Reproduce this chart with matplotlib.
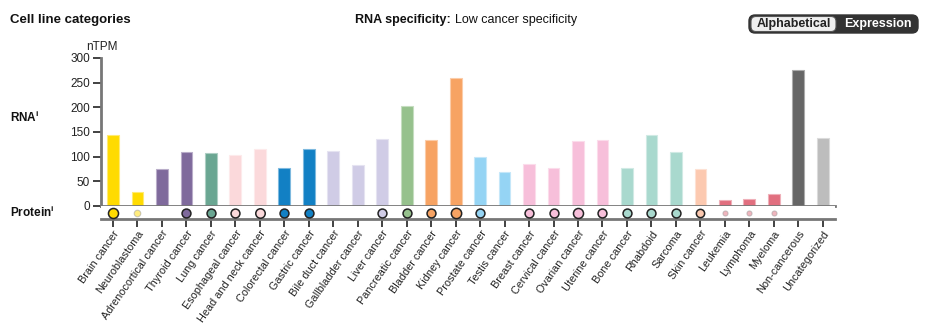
import numpy as np
import matplotlib.pyplot as plt
from matplotlib.patches import FancyBboxPatch

plt.rcParams['font.family'] = ['Liberation Sans', 'DejaVu Sans']

categories = ["Brain cancer", "Neuroblastoma", "Adrenocortical cancer", "Thyroid cancer",
              "Lung cancer", "Esophageal cancer", "Head and neck cancer", "Colorectal cancer",
              "Gastric cancer", "Bile duct cancer", "Gallbladder cancer", "Liver cancer",
              "Pancreatic cancer", "Bladder cancer", "Kidney cancer", "Prostate cancer",
              "Testis cancer", "Breast cancer", "Cervical cancer", "Ovarian cancer",
              "Uterine cancer", "Bone cancer", "Rhabdoid", "Sarcoma", "Skin cancer",
              "Leukemia", "Lymphoma", "Myeloma", "Non-cancerous", "Uncategorized"]

rna_ntpm = [143, 29, 74, 110, 107, 104, 116, 78, 116, 112, 84, 135, 202, 133, 259,
            100, 68, 85, 78, 132, 134, 78, 143, 110, 74, 12, 14, 25, 276, 137]

# protein level per category, None = no protein data
protein = [2.6, 1.4, None, 2.2, 2.2, 2.2, 2.4, 2.2, 2.2, None, None, 2.2, 2.2, 2.2, 2.7,
           2.2, None, 2.2, 2.2, 2.6, 2.2, 2.2, 2.2, 2.2, 2.0, 0.9, 0.9, 0.9, None, None]

colors = ["#ffdb00", "#ffdb00", "#7f6a9c", "#7f6a9c", "#6aa692", "#fbd9db", "#fbd9db",
          "#1280c4", "#1280c4", "#d0cce6", "#d0cce6", "#d0cce6", "#96c18d", "#f7a363",
          "#f7a363", "#95d4f4", "#95d4f4", "#f7bfda", "#f7bfda", "#f7bfda", "#f7bfda",
          "#a9d9ce", "#a9d9ce", "#a9d9ce", "#fcc9b0", "#e16f7f", "#e16f7f", "#e16f7f",
          "#666666", "#bdbdbd"]

W, H = 941, 325
fig = plt.figure(figsize=(W / 100, H / 100), dpi=100)


def fx(px):
    return px / W


def fy(py):
    return 1 - py / H


x = np.arange(len(categories))
xlim = (-0.49, 29.5)

# RNA bars
ax = fig.add_axes([fx(101), fy(206), fx(835 - 101), fy(58) - fy(206)])
edge = [tuple(0.55 * np.array(plt.matplotlib.colors.to_rgb(c)) + 0.45) for c in colors]
ax.bar(x, rna_ntpm, width=0.48, color=colors, edgecolor=edge, linewidth=0.8)
ax.set_xlim(xlim)
ax.set_ylim(0, 300)
ax.set_yticks(range(0, 301, 50))
ax.set_xticks([])
for s in ["top", "right"]:
    ax.spines[s].set_visible(False)
ax.spines["left"].set_color("#777777")
ax.spines["left"].set_linewidth(2)
ax.spines["bottom"].set_color("#777777")
ax.spines["bottom"].set_linewidth(2)
ax.tick_params(axis="y", length=6, width=1.2, color="#222222", labelsize=8.5,
               labelcolor="#222222", pad=2)
ax.text(-0.02, 1.035, "nTPM", transform=ax.transAxes, fontsize=8.5, color="#222222",
        ha="left", va="bottom")

# protein row
pax = fig.add_axes([fx(101), fy(219), fx(835 - 101), fy(206) - fy(219)])
pax.set_xlim(xlim)
pax.set_ylim(-1, 1)
for s in ["top", "right", "left"]:
    pax.spines[s].set_visible(False)
pax.spines["bottom"].set_color("#777777")
pax.spines["bottom"].set_linewidth(2)
pax.set_yticks([])
pax.set_xticks(x)
pax.set_xticklabels(categories, rotation=55, ha="right", va="top",
                    rotation_mode="anchor", fontsize=7.8, color="#222222")
pax.tick_params(axis="x", length=6, width=1.2, color="#222222", pad=1)
for i, v in enumerate(protein):
    if v is None:
        continue
    d_pt = (2.5 + 2.9 * v) * 0.72
    if v < 1.5:
        pax.scatter(i, 0, s=d_pt ** 2, color=colors[i], alpha=0.5,
                    edgecolors="#999999", linewidths=0.8, zorder=3, clip_on=False)
    else:
        pax.scatter(i, 0, s=d_pt ** 2, color=colors[i], edgecolors="#222222",
                    linewidths=1.1, zorder=3, clip_on=False)

# header texts
fig.text(fx(10), fy(20), "Cell line categories", fontsize=9.5, fontweight="bold",
         ha="left", va="center", color="#111111")
t1 = fig.text(fx(355), fy(20), "RNA specificity:", fontsize=9, fontweight="bold",
              ha="left", va="center", color="#111111")
fig.canvas.draw()
bb = t1.get_window_extent()
fig.text(bb.x1 / W + fx(4), fy(20), "Low cancer specificity", fontsize=9,
         ha="left", va="center", color="#111111")
fig.text(fx(10), fy(117), r"RNA$^{\mathregular{i}}$", fontsize=8.5, fontweight="bold",
         ha="left", va="center", color="#111111")
fig.text(fx(10), fy(212), r"Protein$^{\mathregular{i}}$", fontsize=8.5, fontweight="bold",
         ha="left", va="center", color="#111111")

# sort toggle, drawn on a pixel-unit overlay
ov = fig.add_axes([0, 0, 1, 1], zorder=5)
ov.set_xlim(0, W)
ov.set_ylim(H, 0)
ov.axis("off")
ov.add_patch(FancyBboxPatch((749, 15), 918 - 749, 18,
                            boxstyle="round,pad=0,rounding_size=6",
                            facecolor="#333333", edgecolor="#333333", linewidth=1))
ov.add_patch(FancyBboxPatch((751, 16.5), 836 - 751, 15,
                            boxstyle="round,pad=0,rounding_size=5",
                            facecolor="#efefef", edgecolor="#555555", linewidth=0.8))
ov.text(793.5, 24, "Alphabetical", fontsize=9, fontweight="bold",
        ha="center", va="center", color="#222222")
ov.text(878, 24, "Expression", fontsize=9, fontweight="bold",
        ha="center", va="center", color="white")

fig.savefig("out.png", dpi=100)
